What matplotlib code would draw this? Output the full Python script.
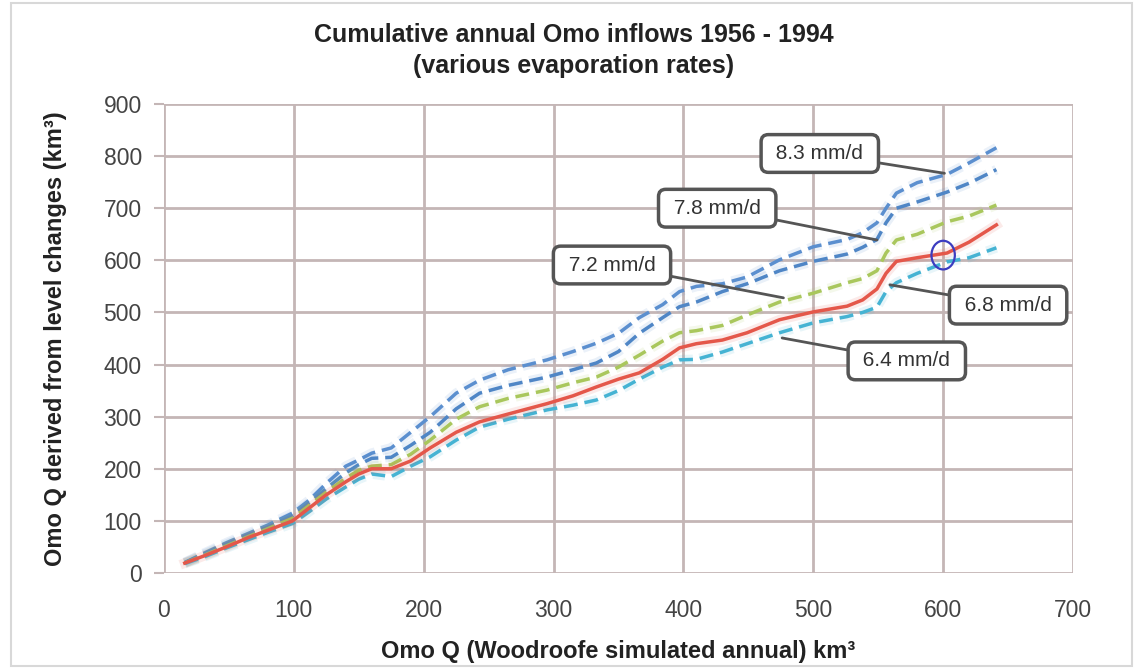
import matplotlib.pyplot as plt
import matplotlib.patheffects as pe
from matplotlib.patches import Ellipse, Rectangle

plt.rcParams['font.family'] = ['Liberation Sans', 'DejaVu Sans']

# Woodroofe simulated cumulative inflow (km3)
x = [16, 30, 48, 65, 80, 99, 112, 125, 140, 150, 160, 175, 190, 205, 225, 243, 265,
     295, 315, 333, 350, 366, 384, 397, 410, 430, 449, 474, 500, 526, 538, 549, 556,
     564, 580, 603, 620, 641]

# derived from level changes, per evaporation rate
q_64 = [18, 30, 48, 64, 78, 95, 118, 142, 165, 180, 190, 185, 205, 223, 255, 280, 295,
        313, 322, 332, 350, 372, 395, 409, 410, 424, 440, 461, 480, 492, 500, 510, 540,
        557, 575, 597, 605, 624]
q_68 = [19, 32, 50, 68, 82, 100, 125, 150, 175, 190, 200, 200, 215, 240, 270, 290, 305,
        325, 340, 357, 372, 384, 410, 432, 440, 447, 461, 486, 501, 512, 524, 545, 575,
        598, 605, 614, 635, 668]
q_72 = [19, 33, 52, 70, 85, 105, 130, 155, 182, 197, 205, 208, 228, 255, 295, 319, 335,
        351, 365, 376, 395, 418, 445, 461, 465, 475, 495, 520, 537, 557, 565, 580, 614,
        639, 650, 674, 685, 706]
q_78 = [20, 35, 55, 73, 88, 110, 135, 162, 192, 208, 220, 222, 245, 270, 315, 345, 360,
        376, 390, 403, 425, 460, 490, 511, 520, 540, 555, 580, 598, 612, 625, 640, 672,
        700, 712, 731, 748, 774]
q_83 = [20, 37, 58, 76, 92, 115, 140, 172, 205, 217, 230, 240, 270, 300, 345, 370, 390,
        409, 425, 441, 460, 490, 515, 540, 550, 555, 568, 601, 626, 640, 653, 672, 700,
        729, 749, 765, 787, 816]

labels = ['8.3 mm/d', '7.8 mm/d', '7.2 mm/d', '6.8 mm/d', '6.4 mm/d']
label_xy = [(505, 805), (426, 700), (345, 591), (650, 514), (572, 407)]
point_xy = [(601, 767), (549, 639), (477, 528), (559, 553), (476, 451)]

fig = plt.figure(figsize=(11.42, 6.70), dpi=100)
fig.patches.append(Rectangle((0.010, 0.006), 0.981, 0.990, transform=fig.transFigure,
                             fill=False, edgecolor='#d8d8d8', linewidth=1.5))
ax = fig.add_axes([0.1436, 0.1448, 0.7960, 0.7000])

series = [
    (q_83, '#5b8fcf', (0, (4, 2))),
    (q_78, '#4f86c6', (0, (4, 2))),
    (q_72, '#a9c75c', (0, (4, 2))),
    (q_64, '#45b3d3', (0, (4, 2))),
    (q_68, '#e4574a', '-'),
]
for ys, col, ls in series:
    ax.plot(x, ys, color=col, linestyle=ls, linewidth=2.5, zorder=3,
            path_effects=[pe.Stroke(linewidth=7, foreground=col, alpha=0.12), pe.Normal()])

ax.add_patch(Ellipse((600, 610), 18, 55, fill=False, edgecolor='#3c3cc0', linewidth=1.6, zorder=5))

for lab, (tx, ty), (px, py) in zip(labels, label_xy, point_xy):
    ax.annotate(' ' + lab + ' ', xy=(px, py), xytext=(tx, ty), fontsize=15, color='#333333',
                ha='center', va='center', zorder=6,
                bbox=dict(boxstyle='round,pad=0.45,rounding_size=0.35', fc='white',
                          ec='#555555', lw=2.5),
                arrowprops=dict(arrowstyle='-', color='#555555', lw=2,
                                shrinkA=0, shrinkB=0))

ax.set_xlim(0, 700)
ax.set_ylim(0, 900)
ax.set_xticks(range(0, 701, 100))
ax.set_yticks(range(0, 901, 100))
ax.grid(True, color='#c4b6b6', linewidth=2, zorder=0)
ax.set_axisbelow(True)
for s in ax.spines.values():
    s.set_visible(False)
ax.tick_params(axis='both', labelsize=16.5, labelcolor='#444444', color='#c4b6b6',
               length=7, width=1.5)
ax.tick_params(axis='y', pad=9)
ax.tick_params(axis='x', length=0, pad=19)

ax.set_xlabel('Omo Q (Woodroofe simulated annual) km³', fontsize=17, fontweight='bold',
              color='#222222', labelpad=13)
ax.set_ylabel('Omo Q derived from level changes (km³)', fontsize=17, fontweight='bold',
              color='#222222', labelpad=26)

fig.text(0.5026, 0.948, 'Cumulative annual Omo inflows 1956 - 1994', ha='center', va='center',
         fontsize=18, fontweight='bold', color='#222222')
fig.text(0.5026, 0.901, '(various evaporation rates)', ha='center', va='center',
         fontsize=18, fontweight='bold', color='#222222')

fig.savefig('out.png', dpi=100, facecolor='white')
